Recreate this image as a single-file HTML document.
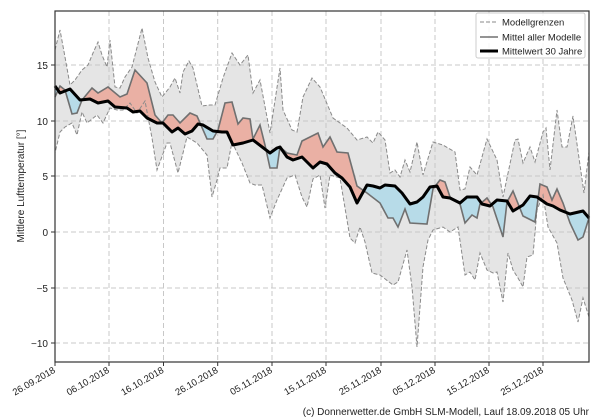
<!DOCTYPE html>
<html><head><meta charset="utf-8"><style>
body{margin:0;background:#fff;}
svg{display:block;font-family:"Liberation Sans","DejaVu Sans",sans-serif;}
</style></head><body>
<svg width="600" height="420" viewBox="0 0 600 420" xmlns="http://www.w3.org/2000/svg">
<defs>
<clipPath id="plot"><rect x="55" y="11" width="534" height="351"/></clipPath>
<clipPath id="above"><polygon points="55,11 55,86 60,93 70,89 80,100 90,99 98,103 108,101 115,107 127,108 133,112 140,111 147,118 157,123 163,123 172,132 178,128 185,134 192,131 198,124 203,125 213,131 222,132 227,132 233,145 243,143 253,140 270,153 277,148 280,147 287,157 293,160 302,157 313,168 320,162 327,164 335,173 342,178 350,187 357,203 367,185 373,186 380,188 385,185 395,186 402,193 410,204 417,202 423,197 430,187 437,186 443,197 450,198 460,203 467,197 477,197 482,204 490,206 497,200 507,201 513,211 523,205 530,196 537,197 547,204 553,206 560,210 570,214 583,211 589,218 589,11"/></clipPath>
<clipPath id="below"><polygon points="55,362 55,86 60,93 70,89 80,100 90,99 98,103 108,101 115,107 127,108 133,112 140,111 147,118 157,123 163,123 172,132 178,128 185,134 192,131 198,124 203,125 213,131 222,132 227,132 233,145 243,143 253,140 270,153 277,148 280,147 287,157 293,160 302,157 313,168 320,162 327,164 335,173 342,178 350,187 357,203 367,185 373,186 380,188 385,185 395,186 402,193 410,204 417,202 423,197 430,187 437,186 443,197 450,198 460,203 467,197 477,197 482,204 490,206 497,200 507,201 513,211 523,205 530,196 537,197 547,204 553,206 560,210 570,214 583,211 589,218 589,362"/></clipPath>
</defs>

<g clip-path="url(#plot)">
<polygon fill="#e5e5e5" stroke="none" points="55,50 60,30 65,57 70,85 75,80 82,70 88,65 93,53 98,42 102,55 107,67 110,40 115,87 120,88 125,77 132,67 142,28 148,58 155,82 162,97 170,87 175,78 180,93 183,72 189,61 193,68 202,106 210,105 215,105 223,78 232,53 240,65 248,55 253,93 260,80 270,133 280,68 283,110 292,130 297,132 303,97 312,78 320,87 333,118 347,128 357,140 367,137 373,143 378,132 385,140 390,173 395,170 400,177 405,160 410,172 417,142 423,175 433,142 443,145 455,152 460,190 465,189 470,167 477,175 487,139 497,160 503,197 515,140 518,139 523,163 530,147 535,162 543,132 546,128 550,170 557,110 562,147 567,147 573,116 584,193 589,152
589,317 583,298 578,322 572,300 563,278 557,243 548,227 543,195 537,210 533,255 527,257 523,287 518,278 513,270 508,253 503,302 497,272 493,273 487,270 480,253 475,280 470,272 465,275 458,227 450,232 443,227 433,230 428,240 423,267 417,347 412,287 407,250 398,282 393,285 380,275 372,273 365,242 360,227 355,243 350,238 340,178 330,175 325,208 320,175 313,179 307,207 302,197 295,175 287,178 277,200 270,218 262,185 255,185 250,183 242,163 232,142 227,168 220,168 217,180 212,197 207,155 197,143 187,137 178,173 170,143 167,143 157,170 152,138 145,101 137,113 130,103 123,110 117,110 110,108 103,123 97,115 87,123 82,112 77,135 72,123 65,127 60,132 55,153"/>
</g>

<g stroke="#c8c8c8" stroke-width="1" stroke-dasharray="5,3" fill="none">
<line x1="55" y1="65" x2="589" y2="65"/><line x1="55" y1="121" x2="589" y2="121"/><line x1="55" y1="176" x2="589" y2="176"/><line x1="55" y1="232" x2="589" y2="232"/><line x1="55" y1="288" x2="589" y2="288"/><line x1="55" y1="343" x2="589" y2="343"/>
<line x1="109" y1="11" x2="109" y2="362"/><line x1="163.5" y1="11" x2="163.5" y2="362"/><line x1="217.7" y1="11" x2="217.7" y2="362"/><line x1="272" y1="11" x2="272" y2="362"/><line x1="326" y1="11" x2="326" y2="362"/><line x1="381" y1="11" x2="381" y2="362"/><line x1="435" y1="11" x2="435" y2="362"/><line x1="489" y1="11" x2="489" y2="362"/><line x1="543" y1="11" x2="543" y2="362"/>
</g>

<g fill-rule="evenodd">
<polygon clip-path="url(#above)" fill="#eab0a4" points="55,97 60,86 65,90 72,114 77,113 82,100 92,88 98,93 108,87 120,97 127,94 135,70 147,83 155,115 162,123 168,115 173,115 180,123 190,113 197,116 207,139 213,139 218,130 225,103 232,102 238,124 243,118 250,119 253,139 260,125 265,145 270,168 277,168 280,147 287,153 297,155 302,141 318,133 323,147 330,137 337,152 348,153 357,186 367,193 380,203 388,218 393,218 398,227 405,209 410,223 427,224 433,189 440,180 445,182 450,197 460,204 465,223 472,215 477,218 480,204 487,198 493,207 503,237 507,202 513,191 523,216 535,222 540,184 547,187 552,200 557,189 563,203 570,223 578,240 583,237 589,218 583,211 570,214 560,210 553,206 547,204 537,197 530,196 523,205 513,211 507,201 497,200 490,206 482,204 477,197 467,197 460,203 450,198 443,197 437,186 430,187 423,197 417,202 410,204 402,193 395,186 385,185 380,188 373,186 367,185 357,203 350,187 342,178 335,173 327,164 320,162 313,168 302,157 293,160 287,157 280,147 277,148 270,153 253,140 243,143 233,145 227,132 222,132 213,131 203,125 198,124 192,131 185,134 178,128 172,132 163,123 157,123 147,118 140,111 133,112 127,108 115,107 108,101 98,103 90,99 80,100 70,89 60,93 55,86"/>
<polygon clip-path="url(#below)" fill="#b7dbe8" points="55,97 60,86 65,90 72,114 77,113 82,100 92,88 98,93 108,87 120,97 127,94 135,70 147,83 155,115 162,123 168,115 173,115 180,123 190,113 197,116 207,139 213,139 218,130 225,103 232,102 238,124 243,118 250,119 253,139 260,125 265,145 270,168 277,168 280,147 287,153 297,155 302,141 318,133 323,147 330,137 337,152 348,153 357,186 367,193 380,203 388,218 393,218 398,227 405,209 410,223 427,224 433,189 440,180 445,182 450,197 460,204 465,223 472,215 477,218 480,204 487,198 493,207 503,237 507,202 513,191 523,216 535,222 540,184 547,187 552,200 557,189 563,203 570,223 578,240 583,237 589,218 583,211 570,214 560,210 553,206 547,204 537,197 530,196 523,205 513,211 507,201 497,200 490,206 482,204 477,197 467,197 460,203 450,198 443,197 437,186 430,187 423,197 417,202 410,204 402,193 395,186 385,185 380,188 373,186 367,185 357,203 350,187 342,178 335,173 327,164 320,162 313,168 302,157 293,160 287,157 280,147 277,148 270,153 253,140 243,143 233,145 227,132 222,132 213,131 203,125 198,124 192,131 185,134 178,128 172,132 163,123 157,123 147,118 140,111 133,112 127,108 115,107 108,101 98,103 90,99 80,100 70,89 60,93 55,86"/>
</g>

<g clip-path="url(#plot)" fill="none" stroke="#8a8a8a" stroke-width="1" stroke-dasharray="4,2">
<polyline points="55,50 60,30 65,57 70,85 75,80 82,70 88,65 93,53 98,42 102,55 107,67 110,40 115,87 120,88 125,77 132,67 142,28 148,58 155,82 162,97 170,87 175,78 180,93 183,72 189,61 193,68 202,106 210,105 215,105 223,78 232,53 240,65 248,55 253,93 260,80 270,133 280,68 283,110 292,130 297,132 303,97 312,78 320,87 333,118 347,128 357,140 367,137 373,143 378,132 385,140 390,173 395,170 400,177 405,160 410,172 417,142 423,175 433,142 443,145 455,152 460,190 465,189 470,167 477,175 487,139 497,160 503,197 515,140 518,139 523,163 530,147 535,162 543,132 546,128 550,170 557,110 562,147 567,147 573,116 584,193 589,152"/>
<polyline points="589,317 583,298 578,322 572,300 563,278 557,243 548,227 543,195 537,210 533,255 527,257 523,287 518,278 513,270 508,253 503,302 497,272 493,273 487,270 480,253 475,280 470,272 465,275 458,227 450,232 443,227 433,230 428,240 423,267 417,347 412,287 407,250 398,282 393,285 380,275 372,273 365,242 360,227 355,243 350,238 340,178 330,175 325,208 320,175 313,179 307,207 302,197 295,175 287,178 277,200 270,218 262,185 255,185 250,183 242,163 232,142 227,168 220,168 217,180 212,197 207,155 197,143 187,137 178,173 170,143 167,143 157,170 152,138 145,101 137,113 130,103 123,110 117,110 110,108 103,123 97,115 87,123 82,112 77,135 72,123 65,127 60,132 55,153"/>
</g>

<polyline fill="none" stroke="#707070" stroke-width="1.6" points="55,97 60,86 65,90 72,114 77,113 82,100 92,88 98,93 108,87 120,97 127,94 135,70 147,83 155,115 162,123 168,115 173,115 180,123 190,113 197,116 207,139 213,139 218,130 225,103 232,102 238,124 243,118 250,119 253,139 260,125 265,145 270,168 277,168 280,147 287,153 297,155 302,141 318,133 323,147 330,137 337,152 348,153 357,186 367,193 380,203 388,218 393,218 398,227 405,209 410,223 427,224 433,189 440,180 445,182 450,197 460,204 465,223 472,215 477,218 480,204 487,198 493,207 503,237 507,202 513,191 523,216 535,222 540,184 547,187 552,200 557,189 563,203 570,223 578,240 583,237 589,218"/>
<polyline fill="none" stroke="#000" stroke-width="3" stroke-linejoin="round" points="55,86 60,93 70,89 80,100 90,99 98,103 108,101 115,107 127,108 133,112 140,111 147,118 157,123 163,123 172,132 178,128 185,134 192,131 198,124 203,125 213,131 222,132 227,132 233,145 243,143 253,140 270,153 277,148 280,147 287,157 293,160 302,157 313,168 320,162 327,164 335,173 342,178 350,187 357,203 367,185 373,186 380,188 385,185 395,186 402,193 410,204 417,202 423,197 430,187 437,186 443,197 450,198 460,203 467,197 477,197 482,204 490,206 497,200 507,201 513,211 523,205 530,196 537,197 547,204 553,206 560,210 570,214 583,211 589,218"/>

<rect x="55" y="11" width="534" height="351" fill="none" stroke="#333" stroke-width="1.2"/>

<g stroke="#333"><line x1="51" y1="65" x2="55" y2="65"/><line x1="51" y1="121" x2="55" y2="121"/><line x1="51" y1="176" x2="55" y2="176"/><line x1="51" y1="232" x2="55" y2="232"/><line x1="51" y1="288" x2="55" y2="288"/><line x1="51" y1="343" x2="55" y2="343"/>
<line x1="55" y1="362" x2="55" y2="366"/><line x1="109" y1="362" x2="109" y2="366"/><line x1="163.5" y1="362" x2="163.5" y2="366"/><line x1="217.7" y1="362" x2="217.7" y2="366"/><line x1="272" y1="362" x2="272" y2="366"/><line x1="326" y1="362" x2="326" y2="366"/><line x1="381" y1="362" x2="381" y2="366"/><line x1="435" y1="362" x2="435" y2="366"/><line x1="489" y1="362" x2="489" y2="366"/><line x1="543" y1="362" x2="543" y2="366"/></g>
<g font-size="10" fill="#222" text-anchor="end">
<text x="48" y="69">15</text><text x="48" y="125">10</text><text x="48" y="180">5</text><text x="48" y="236">0</text><text x="48" y="292">−5</text><text x="48" y="347">−10</text>
</g>
<g font-size="9.5" fill="#222" text-anchor="end">
<text transform="translate(56,372) rotate(-30)">26.09.2018</text>
<text transform="translate(110,372) rotate(-30)">06.10.2018</text>
<text transform="translate(164.5,372) rotate(-30)">16.10.2018</text>
<text transform="translate(218.7,372) rotate(-30)">26.10.2018</text>
<text transform="translate(273,372) rotate(-30)">05.11.2018</text>
<text transform="translate(327,372) rotate(-30)">15.11.2018</text>
<text transform="translate(382,372) rotate(-30)">25.11.2018</text>
<text transform="translate(436,372) rotate(-30)">05.12.2018</text>
<text transform="translate(490,372) rotate(-30)">15.12.2018</text>
<text transform="translate(544,372) rotate(-30)">25.12.2018</text>
</g>
<text transform="translate(24,186) rotate(-90)" font-size="10" fill="#222" text-anchor="middle">Mittlere Lufttemperatur [°]</text>
<text x="589" y="415" font-size="10" fill="#222" text-anchor="end">(c) Donnerwetter.de GmbH SLM-Modell, Lauf 18.09.2018 05 Uhr</text>

<rect x="476" y="13" width="109" height="45" rx="2" fill="#fff" fill-opacity="0.85" stroke="#ccc"/>
<line x1="480" y1="22" x2="498" y2="22" stroke="#8a8a8a" stroke-dasharray="4,2"/>
<line x1="480" y1="37" x2="498" y2="37" stroke="#707070" stroke-width="1.6"/>
<line x1="480" y1="51" x2="498" y2="51" stroke="#000" stroke-width="3"/>
<g font-size="9.5" fill="#222"><text x="502" y="25.5">Modellgrenzen</text><text x="502" y="40.5">Mittel aller Modelle</text><text x="502" y="54.5">Mittelwert 30 Jahre</text></g>
</svg>
</body></html>
